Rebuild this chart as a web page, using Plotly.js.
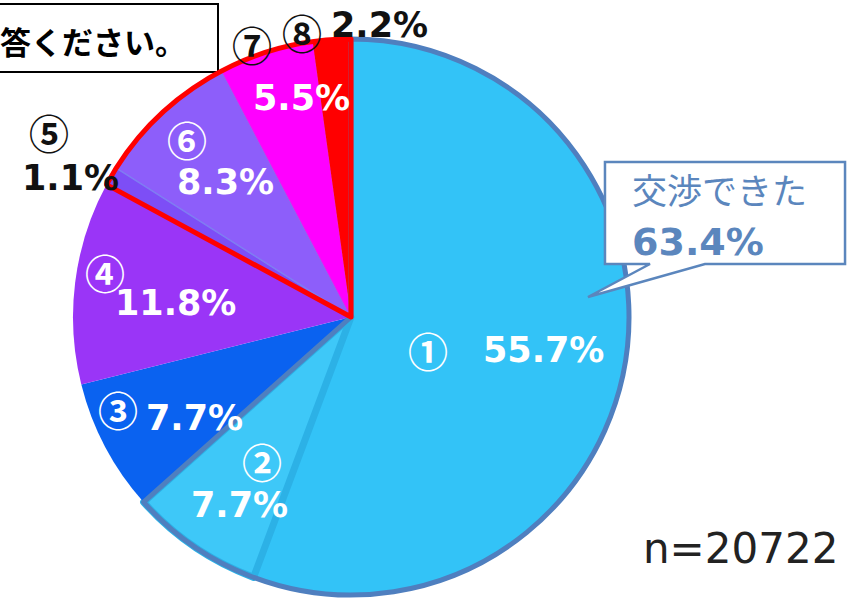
<!DOCTYPE html>
<html><head><meta charset="utf-8">
<script src="https://cdn.plot.ly/plotly-3.0.1.min.js"></script>
<style>html,body{margin:0;padding:0;background:#fff}</style>
</head><body>
<div id="chart" style="width:854px;height:604px"></div>
<script>
// ---- data ----
const marks = ['①','②','③','④','⑤','⑥','⑦','⑧'];
const values = [55.7, 7.7, 7.7, 11.8, 1.1, 8.3, 5.5, 2.2];
const groups = [0, 0, 1, 1, 2, 2, 2, 2];
const calloutLabel = '交渉できた';
const titleText = '答ください。';
const sampleText = 'n=20722';

// ---- style ----
const W = 854, H = 604;
const sliceColors = ['#33c3f7','#3ec8f8','#0a62f0','#9a35f7','#7d4ef6','#8d5efa','#ff00ff','#ff0000'];
const sliceLineColors = ['#33c3f7','#2cb1e6','#0a62f0','#9a35f7','#7d4ef6','#7f7cf2','#e020f0','#ff0000'];
const sliceLineWidths = [0, 7, 0, 0, 0, 1.5, 1, 0];
const groupLineColors = ['#4f7fbf','rgba(0,0,0,0)','#ff0000'];
const groupLineWidths = [5, 0, 5];
const cx = 351, cy = 317, R = 278;
const px = x => x / W, py = y => 1 - y / H;
const domain = {x:[px(cx-R), px(cx+R)], y:[py(cy+R), py(cy-R)]};

// label layout: [circle x, circle y, pct x, pct y, colour of pct, colour of circle]
const labelPos = [
  [428,350, 543,350,'#ffffff','#ffffff'],
  [262,461, 240,505,'#ffffff','#ffffff'],
  [118,409, 194,418,'#ffffff','#ffffff'],
  [105,272, 175,303,'#ffffff','#ffffff'],
  [49,132, 70,178,'#111111','#111111'],
  [187,139, 225,182,'#ffffff','#ffffff'],
  [252,44, 301,98,'#ffffff','#111111'],
  [302,32, 379,25,'#111111','#111111']
];

const groupValues = [0,0,0];
values.forEach((v,i)=>{groupValues[groups[i]] += v;});

const traces = [
  {type:'pie', values:values, labels:marks, sort:false, direction:'clockwise', rotation:0,
   marker:{colors:sliceColors, line:{color:sliceLineColors, width:sliceLineWidths}},
   textinfo:'none', hoverinfo:'none', showlegend:false, domain:domain},
  {type:'pie', values:groupValues, labels:['A','B','C'], sort:false, direction:'clockwise', rotation:0,
   marker:{colors:['rgba(0,0,0,0)','rgba(0,0,0,0)','rgba(0,0,0,0)'], line:{color:groupLineColors, width:groupLineWidths}},
   textinfo:'none', hoverinfo:'none', showlegend:false, domain:domain}
];

const pctFont = 'DejaVu Sans, Verdana, sans-serif';
const cjkFont = 'Noto Sans CJK JP, sans-serif';
const annotations = [];
marks.forEach((m,i)=>{
  const p = labelPos[i];
  annotations.push({xref:'paper', yref:'paper', x:px(p[0]), y:py(p[1]), text:'<b>'+m+'</b>', showarrow:false,
    xanchor:'center', yanchor:'middle', font:{family:cjkFont, size:40, color:p[5]}});
  annotations.push({xref:'paper', yref:'paper', x:px(p[2]), y:py(p[3]), text:'<b>'+values[i].toFixed(1)+'%</b>', showarrow:false,
    xanchor:'center', yanchor:'middle', font:{family:pctFont, size:35, color:p[4]}});
});
annotations.push({xref:'paper', yref:'paper', x:px(188), y:py(40), text:'<b>'+titleText+'</b>', showarrow:false,
  xanchor:'right', yanchor:'middle', font:{family:cjkFont, size:31, color:'#000'}});
annotations.push({xref:'paper', yref:'paper', x:px(630), y:py(188), text:calloutLabel, showarrow:false,
  xanchor:'left', yanchor:'middle', font:{family:cjkFont, size:35, color:'#5b86bd'}});
annotations.push({xref:'paper', yref:'paper', x:px(630), y:py(242), text:'<b>'+groupValues[0].toFixed(1)+'%</b>', showarrow:false,
  xanchor:'left', yanchor:'middle', font:{family:pctFont, size:38, color:'#5b86bd'}});
annotations.push({xref:'paper', yref:'paper', x:px(840), y:py(548), text:sampleText, showarrow:false,
  xanchor:'right', yanchor:'middle', font:{family:'DejaVu Sans, sans-serif', size:42, color:'#222'}});

function pathOf(pts){
  return 'M' + pts.map(p=>px(p[0]).toFixed(4)+','+py(p[1]).toFixed(4)).join(' L') + ' Z';
}
const shapes = [
  {type:'rect', xref:'paper', yref:'paper', x0:px(-10), x1:px(218), y0:py(72), y1:py(4),
   line:{color:'#000', width:2}, fillcolor:'#fff', layer:'below'},
  {type:'path', xref:'paper', yref:'paper',
   path:pathOf([[605,162],[845,162],[845,264],[705,264],[588,297],[650,264],[605,264]]),
   line:{color:'#5b86bd', width:2.5}, fillcolor:'#ffffff', layer:'above'}
];

const layout = {width:W, height:H, margin:{l:0,r:0,t:0,b:0}, paper_bgcolor:'#fff', plot_bgcolor:'#fff',
  showlegend:false, annotations:annotations, shapes:shapes};
Plotly.newPlot('chart', traces, layout, {displayModeBar:false, staticPlot:true});
</script>
</body></html>
